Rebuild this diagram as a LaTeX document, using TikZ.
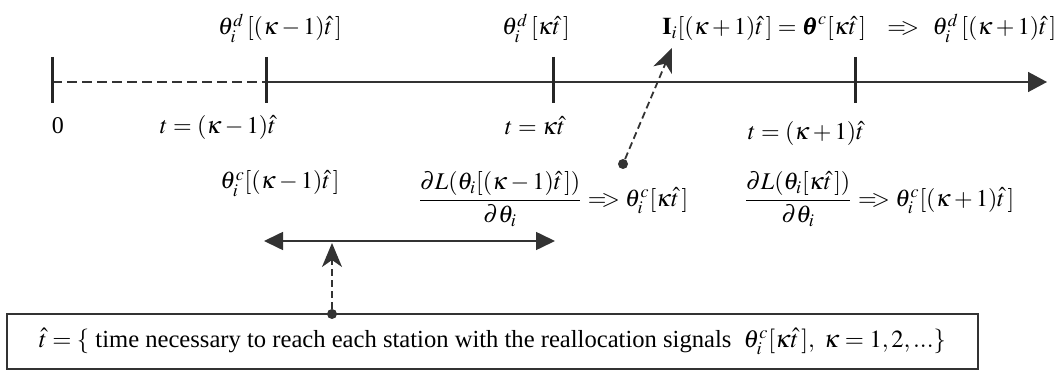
\documentclass[tikz,border=0pt]{standalone}
\usepackage{amsmath,amssymb}
\usepackage{mathptmx}
\usepackage{bm}
\usepackage[no-math]{fontspec}
\setmainfont{Liberation Serif}
\usetikzlibrary{arrows.meta,positioning,calc}
\newcommand{\tstep}{\hat{t}}
\newcommand{\yields}{\mathrel{=\!\!>}}

\begin{document}
\begin{tikzpicture}[x=0.5pt, y=-0.5pt, font=\fontsize{12}{14}\selectfont,
    axis/.style={draw=black!80, line width=0.8pt},
    tickmark/.style={draw=black!85, line width=1.5pt},
    lbl/.style={inner sep=0pt, anchor=base},
    sig/.style={draw=black!80, line width=0.9pt, dash pattern=on 3.5pt off 2pt, -{Stealth[length=12pt,width=10pt,inset=3.5pt]}},
    dot/.style={circle, fill=black!80, inner sep=0pt, minimum size=5pt},
    span/.style={draw=black!80, line width=0.8pt, {Triangle[length=9.5pt,width=9pt]}-{Triangle[length=9.5pt,width=9pt]}},
    note/.style={draw=black!80, line width=0.8pt, minimum width=485.5pt, minimum height=27.5pt, inner sep=0pt, font=\fontsize{12.3}{14}\selectfont}
]
    \useasboundingbox (0,0) rectangle (1057,374);

    \coordinate (t0) at (52,82);
    \coordinate (t1) at (266,82);
    \coordinate (t2) at (553,82);
    \coordinate (t3) at (855,82);
    \coordinate (tend) at (1047,82);

    \draw[axis, dash pattern=on 5pt off 2.5pt] (t0) -- (t1);
    \draw[axis, -{Triangle[length=9.5pt,width=10pt]}] (t1) -- (tend);
    \foreach \p in {t0,t1,t2,t3}
        \draw[tickmark] ($(\p)+(0,-25)$) -- ($(\p)+(0,21)$);

    \node[lbl] (d1lbl) at (280,35) {$\theta_i^d\,[(\kappa-1)\tstep\,]$};
    \node[lbl] (d2lbl) at (536,35) {$\theta_i^d\,[\kappa\tstep\,]$};
    \node[lbl, anchor=base west] (ilbl) at (662,35) {$\mathbf{I}_i[(\kappa+1)\tstep\,]=\bm{\theta}^c[\kappa\tstep\,]\hspace{8pt}\yields\hspace{4pt}\theta_i^d\,[(\kappa+1)\tstep\,]$};

    \node[lbl] (z0) at (58,134) {0};
    \node[lbl] (z1) at (218,134) {$t=(\kappa-1)\tstep$};
    \node[lbl] (z2) at (535,135) {$t=\kappa\tstep$};
    \node[lbl] (z3) at (806,140) {$t=(\kappa+1)\tstep$};

    \node[lbl] (c1) at (280,189) {$\theta_i^c[(\kappa-1)\tstep\,]$};
    \node (g1) at (553,199) {$\dfrac{\partial L(\theta_i[(\kappa-1)\tstep\,])}{\partial\theta_i}\yields\theta_i^c[\kappa\tstep\,]$};
    \node (g2) at (879,199) {$\dfrac{\partial L(\theta_i[\kappa\tstep\,])}{\partial\theta_i}\yields\theta_i^c[(\kappa+1)\tstep\,]$};

    \node[dot] (d1) at (623,164) {};
    \coordinate (sigtip) at (672,48);
    \draw[sig] (d1) -- (sigtip);

    \coordinate (sl) at (264,241);
    \coordinate (sr) at (555,241);
    \draw[span] (sl) -- (sr);

    \node[note] (expl) at (492.5,341.5) {$\tstep=\{$ time necessary to reach each station with the reallocation signals\ \ $\theta_i^c[\kappa\tstep\,],\ \kappa=1,2,...\}$};
    \node[dot] (d2) at (332,314) {};
    \coordinate (spantip) at (332,243);
    \draw[sig] (d2) -- (spantip);
\end{tikzpicture}
\end{document}
